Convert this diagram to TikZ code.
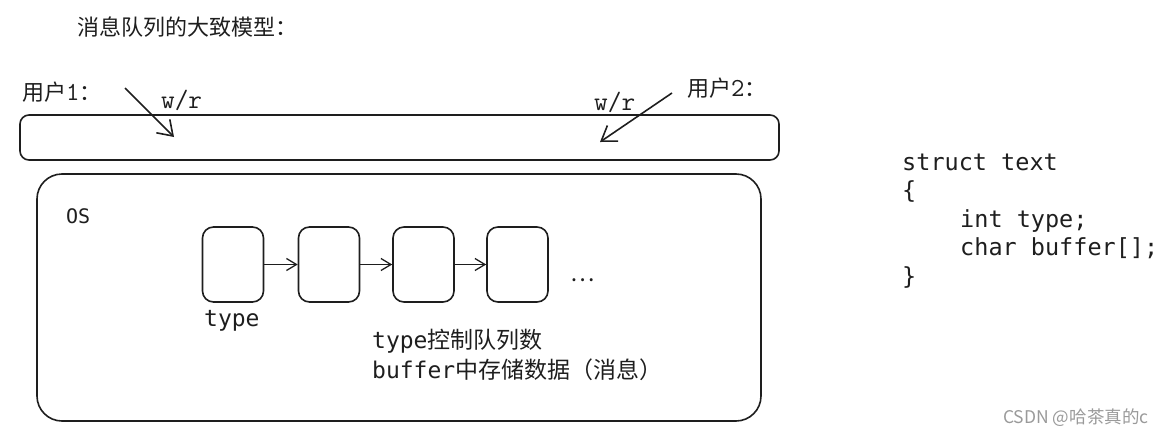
\documentclass[tikz,border=0pt]{standalone}
\usepackage{fontspec}
\usetikzlibrary{arrows.meta}
\newfontfamily\cjk{Noto Sans CJK SC}
\newfontfamily\codefont{DejaVu Sans Mono}
\definecolor{ink}{HTML}{1E1E1E}
\definecolor{mark}{HTML}{9A9A9A}

\tikzset{
  sketch/.style={draw=ink,line width=1.6pt},
  qbox/.style={sketch,rounded corners=11pt,minimum width=61pt,minimum height=75pt,inner sep=0pt},
  bigarrow/.style={draw=ink,line width=1.6pt,-{Straight Barb[length=14pt,width=19pt]}},
  qarrow/.style={draw=ink,line width=1.3pt,-{Straight Barb[length=10pt,width=12pt]}},
  label/.style={inner sep=0pt,text=ink,anchor=west},
}

\begin{document}
\begin{tikzpicture}[x=1pt,y=-1pt]
\useasboundingbox (0,0) rectangle (1172,439);

% title
\node[label,font=\cjk\fontsize{22}{26}\selectfont] (title) at (77,27) {消息队列的大致模型：};

% the shared bar and the two users
\node[sketch,rounded corners=9pt,minimum width=759pt,minimum height=45pt] (bar) at (399.5,137.5) {};
\node[label,font=\cjk\fontsize{22}{26}\selectfont] (user1) at (22,92) {用户{\ttfamily\fontsize{26}{28}\selectfont 1}：};
\node[label,font=\cjk\fontsize{22}{26}\selectfont] (user2) at (687,88) {用户{\ttfamily\fontsize{26}{28}\selectfont 2}：};
\node[label,font=\ttfamily\fontsize{26.5}{28}\selectfont] (wr1) at (161,100) {w/r};
\node[label,font=\ttfamily\fontsize{26.5}{28}\selectfont] (wr2) at (594,102) {w/r};
\coordinate (u1tail) at (125,88);
\coordinate (u1head) at (174,137);
\coordinate (u2tail) at (672,93);
\coordinate (u2head) at (600,142);
\draw[bigarrow] (u1tail) -- (u1head);
\draw[bigarrow] (u2tail) -- (u2head);

% the os box
\node[sketch,rounded corners=25pt,minimum width=724pt,minimum height=247pt] (os) at (399,297.5) {};
\node[label,font=\codefont\fontsize{20}{24}\selectfont] (oslabel) at (66,216) {OS};

% the queue
\foreach \i/\x in {1/233,2/329,3/423.5,4/517.5}
  \node[qbox] (q\i) at (\x,264.5) {};
\foreach \i/\j in {1/2,2/3,3/4}
  \draw[qarrow] (q\i.east) -- (q\j.west);
\node[inner sep=0pt,anchor=base,text=ink,font=\cjk\fontsize{23}{26}\selectfont] (dots) at (583,281) {…};

\node[label,font=\codefont\fontsize{23}{26}\selectfont] (typelabel) at (204,321) {type};
\node[label,align=left,font=\fontsize{23}{30}\selectfont] (note) at (372,355)
  {{\codefont type}{\cjk 控制队列数}\\{\codefont buffer}{\cjk 中存储数据（消息）}};

% the struct
\node[label,anchor=base west,font=\codefont\fontsize{23.5}{28}\selectfont] (code1) at (902,170) {struct text};
\node[label,anchor=base west,font=\codefont\fontsize{23.5}{28}\selectfont] (code2) at (902,198.5) {\{};
\node[label,anchor=base west,font=\codefont\fontsize{23.5}{28}\selectfont] (code3) at (960,227) {int type;};
\node[label,anchor=base west,font=\codefont\fontsize{23.5}{28}\selectfont] (code4) at (960,255.5) {char buffer[];};
\node[label,anchor=base west,font=\codefont\fontsize{23.5}{28}\selectfont] (code5) at (902,284) {\}};

% watermark
\node[inner sep=0pt,anchor=west,text=mark,font=\cjk\fontsize{17.5}{20}\selectfont] (csdn) at (1003,418) {CSDN @哈茶真的c};
\end{tikzpicture}
\end{document}
